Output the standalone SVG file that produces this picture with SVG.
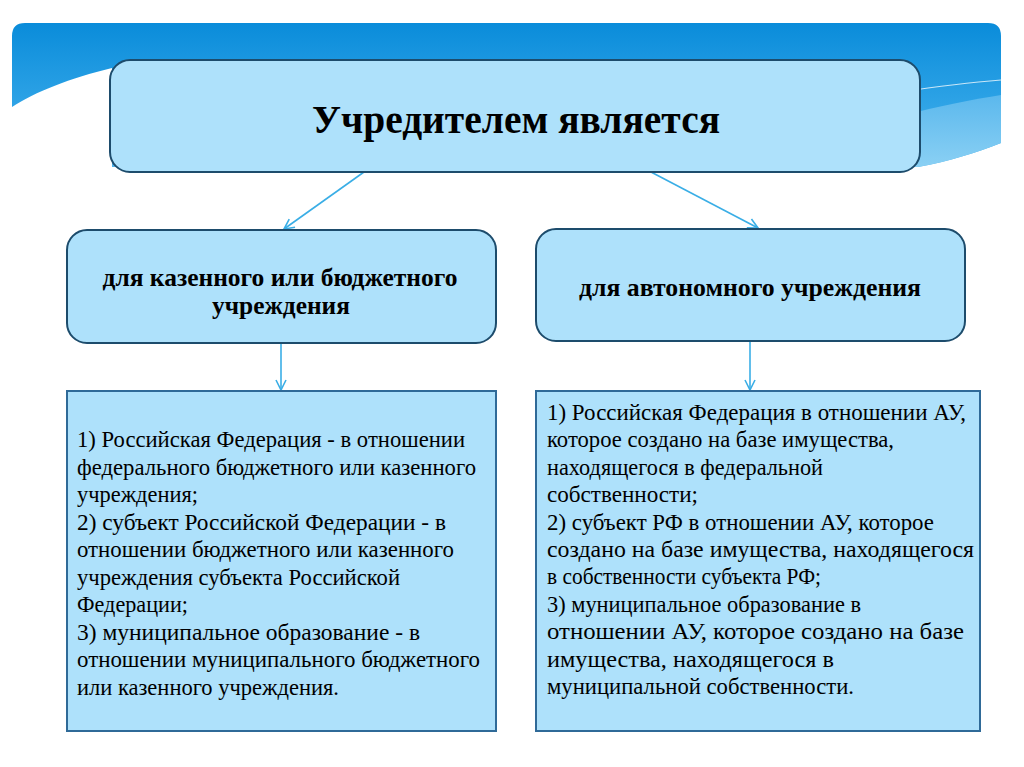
<svg xmlns="http://www.w3.org/2000/svg" width="1024" height="767" viewBox="0 0 1024 767">
<defs>
<linearGradient id="bg" x1="0" y1="23" x2="0" y2="170" gradientUnits="userSpaceOnUse">
<stop offset="0" stop-color="#0a8cda"/>
<stop offset="0.55" stop-color="#2ea3e6"/>
<stop offset="1" stop-color="#55b6ec"/>
</linearGradient>
<linearGradient id="band" x1="0" y1="95" x2="0" y2="167" gradientUnits="userSpaceOnUse">
<stop offset="0" stop-color="#5bb8ed"/>
<stop offset="1" stop-color="#8ad0f4"/>
</linearGradient>
<marker id="arr" viewBox="0 0 12 12" refX="11" refY="6" markerWidth="12" markerHeight="12" markerUnits="userSpaceOnUse" orient="auto">
<path d="M1,1 L11,6 L1,11" fill="none" stroke="#3aaee6" stroke-width="1.6"/>
</marker>
</defs>
<style>
.rbox{fill:#aee1fb;stroke:#1d4c6c;stroke-width:2}
.sbox{fill:#aee1fb;stroke:#2f6a98;stroke-width:2}
.t1{font-family:"Liberation Serif",serif;font-weight:bold;font-size:40px;fill:#000}
.t2{font-family:"Liberation Serif",serif;font-weight:bold;font-size:25px;fill:#000}
.t3{font-family:"Liberation Serif",serif;font-size:22.5px;fill:#000}
.conn line{stroke:#3aaee6;stroke-width:1.6;fill:none}
</style>
<rect x="0" y="0" width="1024" height="767" fill="#ffffff"/>
<g id="banner">
<path d="M12,36 Q12,23 25,23 L988,23 Q1001,23 1001,36 L1001,143 C975,153 950,161 918,167 L112,167 L112,68 C70,78 35,92 12,107 Z" fill="url(#bg)"/>
<path d="M900,116 C940,106 975,99 1001,95 L1001,143 C975,153 950,161 918,167 L900,167 Z" fill="url(#band)"/>
<path d="M900,92 C940,86 975,82 1001,80" fill="none" stroke="#ffffff" stroke-opacity="0.75" stroke-width="1.2"/>
</g>
<g class="conn" id="connectors">
<line x1="364" y1="172" x2="284" y2="229" marker-end="url(#arr)"/>
<line x1="651" y1="172" x2="758" y2="228" marker-end="url(#arr)"/>
<line x1="281" y1="343" x2="281" y2="390" marker-end="url(#arr)"/>
<line x1="750" y1="341" x2="750" y2="390" marker-end="url(#arr)"/>
</g>
<g id="node-top">
<rect class="rbox" x="110" y="60" width="810" height="112" rx="20"/>
<text class="t1" x="516" y="133" text-anchor="middle" textLength="408" lengthAdjust="spacingAndGlyphs">Учредителем является</text>
</g>
<g id="node-left">
<rect class="rbox" x="67" y="230" width="429" height="113" rx="20"/>
<text class="t2" x="280" y="286" text-anchor="middle" textLength="355" lengthAdjust="spacingAndGlyphs">для казенного или бюджетного</text>
<text class="t2" x="281" y="314" text-anchor="middle" textLength="138" lengthAdjust="spacingAndGlyphs">учреждения</text>
</g>
<g id="node-right">
<rect class="rbox" x="536" y="229" width="429" height="112" rx="20"/>
<text class="t2" x="750" y="296" text-anchor="middle" textLength="342" lengthAdjust="spacingAndGlyphs">для автономного учреждения</text>
</g>
<g id="node-left-list">
<rect class="sbox" x="67" y="391" width="429" height="340"/>
<text class="t3" x="77" y="447" textLength="388" lengthAdjust="spacingAndGlyphs">1) Российская Федерация - в отношении</text>
<text class="t3" x="77" y="474.5" textLength="399" lengthAdjust="spacingAndGlyphs">федерального бюджетного или казенного</text>
<text class="t3" x="77" y="502" textLength="121" lengthAdjust="spacingAndGlyphs">учреждения;</text>
<text class="t3" x="77" y="529.5" textLength="369" lengthAdjust="spacingAndGlyphs">2) субъект Российской Федерации - в</text>
<text class="t3" x="77" y="557" textLength="377" lengthAdjust="spacingAndGlyphs">отношении бюджетного или казенного</text>
<text class="t3" x="77" y="584.5" textLength="323" lengthAdjust="spacingAndGlyphs">учреждения субъекта Российской</text>
<text class="t3" x="77" y="612" textLength="111" lengthAdjust="spacingAndGlyphs">Федерации;</text>
<text class="t3" x="77" y="639.5" textLength="343" lengthAdjust="spacingAndGlyphs">3) муниципальное образование - в</text>
<text class="t3" x="77" y="667" textLength="403" lengthAdjust="spacingAndGlyphs">отношении муниципального бюджетного</text>
<text class="t3" x="77" y="694.5" textLength="262" lengthAdjust="spacingAndGlyphs">или казенного учреждения.</text>
</g>
<g id="node-right-list">
<rect class="sbox" x="536" y="391" width="444" height="340"/>
<text class="t3" x="547" y="420" textLength="419" lengthAdjust="spacingAndGlyphs">1) Российская Федерация в отношении АУ,</text>
<text class="t3" x="547" y="447.4" textLength="347" lengthAdjust="spacingAndGlyphs">которое создано на базе имущества,</text>
<text class="t3" x="547" y="474.8" textLength="276" lengthAdjust="spacingAndGlyphs">находящегося в федеральной</text>
<text class="t3" x="547" y="502.2" textLength="151" lengthAdjust="spacingAndGlyphs">собственности;</text>
<text class="t3" x="547" y="529.6" textLength="387" lengthAdjust="spacingAndGlyphs">2) субъект РФ в отношении АУ, которое</text>
<text class="t3" x="547" y="557" textLength="427" lengthAdjust="spacingAndGlyphs">создано на базе имущества, находящегося</text>
<text class="t3" x="547" y="584.4" textLength="274" lengthAdjust="spacingAndGlyphs">в собственности субъекта РФ;</text>
<text class="t3" x="547" y="611.8" textLength="314" lengthAdjust="spacingAndGlyphs">3) муниципальное образование в</text>
<text class="t3" x="547" y="639.2" textLength="417" lengthAdjust="spacingAndGlyphs">отношении АУ, которое создано на базе</text>
<text class="t3" x="547" y="666.6" textLength="287" lengthAdjust="spacingAndGlyphs">имущества, находящегося в</text>
<text class="t3" x="547" y="694" textLength="307" lengthAdjust="spacingAndGlyphs">муниципальной собственности.</text>
</g>
</svg>
